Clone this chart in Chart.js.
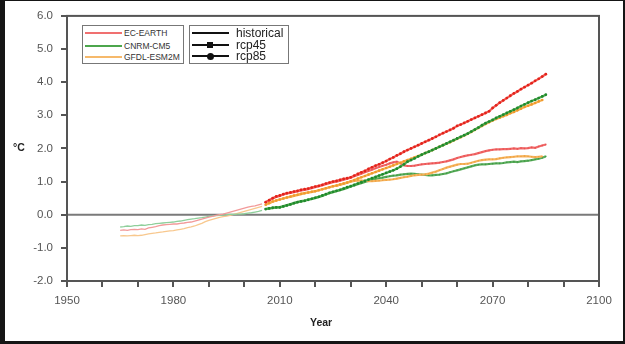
<!DOCTYPE html>
<html>
<head>
  <title>Temperature projections</title>
  <script src="https://cdn.jsdelivr.net/npm/chart.js"></script>
  <style>
    body { margin: 0; background: #151515; font-family: "Liberation Sans", Arial, sans-serif; }
    #panel { position: absolute; left: 5px; top: 1px; width: 618px; height: 340px; background: #fff; }
    #panel canvas { position: absolute; left: 0; top: 0; }
    .lab { position: absolute; font-weight: bold; font-size: 10.5px; color: #222; }
    .box { position: absolute; border: 1.5px solid #777; background: #fff; }
    .row { position: absolute; left: 2px; height: 12px; }
    .ln { position: absolute; left: 0; width: 37px; top: 5px; height: 2px; }
    .txt { position: absolute; top: 0; line-height: 12px; white-space: nowrap; }
    .mk { position: absolute; background: #111; }
  </style>
</head>
<body>
  <div id="panel">
    <canvas id="chart" width="618" height="340"></canvas>
    <div class="lab" style="left:8px; top:140px;">°C</div>
    <div class="lab" style="left:305px; top:315px;">Year</div>
    <div class="box" style="left:77px; top:24px; width:100px; height:37px;">
      <div class="row" style="top:1px;"><div class="ln" style="background:#f07070"></div><div class="txt" style="left:39px; font-size:8.5px; color:#333;">EC-EARTH</div></div>
      <div class="row" style="top:14px;"><div class="ln" style="background:#4ca64c"></div><div class="txt" style="left:39px; font-size:8.5px; color:#333;">CNRM-CM5</div></div>
      <div class="row" style="top:25px;"><div class="ln" style="background:#f6b96b"></div><div class="txt" style="left:39px; font-size:8.5px; color:#333;">GFDL-ESM2M</div></div>
    </div>
    <div class="box" style="left:184px; top:24px; width:98px; height:37px;">
      <div class="row" style="top:1px;"><div class="ln" style="background:#111"></div><div class="txt" style="left:44px; font-size:12px; color:#222;">historical</div></div>
      <div class="row" style="top:13px;"><div class="ln" style="background:#111"></div><div class="mk" style="left:15px; top:3px; width:6px; height:6px;"></div><div class="txt" style="left:44px; font-size:12px; color:#222;">rcp45</div></div>
      <div class="row" style="top:24px;"><div class="ln" style="background:#111"></div><div class="mk" style="left:15px; top:3px; width:7px; height:7px; border-radius:50%;"></div><div class="txt" style="left:44px; font-size:12px; color:#222;">rcp85</div></div>
    </div>
  </div>
  <script>
    const histYears = [1965, 1966, 1967, 1968, 1969, 1970, 1971, 1972, 1973, 1974,
      1975, 1976, 1977, 1978, 1979, 1980, 1981, 1982, 1983, 1984,
      1985, 1986, 1987, 1988, 1989, 1990, 1991, 1992, 1993, 1994,
      1995, 1996, 1997, 1998, 1999, 2000, 2001, 2002, 2003, 2004, 2005];

    const rcpYears = [2006, 2007, 2008, 2009, 2010, 2011, 2012, 2013, 2014, 2015,
      2016, 2017, 2018, 2019, 2020, 2021, 2022, 2023, 2024, 2025,
      2026, 2027, 2028, 2029, 2030, 2031, 2032, 2033, 2034, 2035,
      2036, 2037, 2038, 2039, 2040, 2041, 2042, 2043, 2044, 2045,
      2046, 2047, 2048, 2049, 2050, 2051, 2052, 2053, 2054, 2055,
      2056, 2057, 2058, 2059, 2060, 2061, 2062, 2063, 2064, 2065,
      2066, 2067, 2068, 2069, 2070, 2071, 2072, 2073, 2074, 2075,
      2076, 2077, 2078, 2079, 2080, 2081, 2082, 2083, 2084, 2085];

    // historical runs
    const ecHist = [-0.47, -0.46, -0.47, -0.45, -0.44, -0.45, -0.43, -0.44, -0.40, -0.38,
      -0.36, -0.33, -0.31, -0.30, -0.29, -0.28, -0.28, -0.26, -0.25, -0.23,
      -0.22, -0.19, -0.16, -0.13, -0.10, -0.07, -0.05, -0.02, 0.00, 0.02,
      0.05, 0.08, 0.11, 0.14, 0.17, 0.20, 0.23, 0.25, 0.27, 0.30, 0.33];
    const cnrmHist = [-0.37, -0.36, -0.34, -0.35, -0.33, -0.33, -0.31, -0.32, -0.30, -0.29,
      -0.27, -0.26, -0.25, -0.24, -0.23, -0.22, -0.20, -0.19, -0.17, -0.15,
      -0.13, -0.12, -0.10, -0.09, -0.07, -0.05, -0.04, -0.03, -0.02, -0.01,
      0.00, 0.01, 0.01, 0.02, 0.02, 0.03, 0.05, 0.06, 0.08, 0.10, 0.13];
    const gfdlHist = [-0.64, -0.63, -0.64, -0.63, -0.62, -0.63, -0.62, -0.60, -0.58, -0.56,
      -0.55, -0.53, -0.52, -0.50, -0.49, -0.48, -0.46, -0.44, -0.42, -0.39,
      -0.37, -0.34, -0.30, -0.26, -0.21, -0.17, -0.14, -0.11, -0.08, -0.06,
      -0.04, -0.02, 0.01, 0.04, 0.07, 0.10, 0.13, 0.16, 0.19, 0.22, 0.25];

    // rcp85
    const ec85 = [0.38, 0.44, 0.50, 0.55, 0.58, 0.62, 0.65, 0.67, 0.70, 0.72,
      0.75, 0.77, 0.79, 0.82, 0.85, 0.87, 0.90, 0.94, 0.97, 1.00,
      1.02, 1.05, 1.08, 1.10, 1.13, 1.18, 1.23, 1.28, 1.32, 1.38,
      1.43, 1.48, 1.52, 1.57, 1.62, 1.68, 1.73, 1.79, 1.84, 1.90,
      1.95, 2.00, 2.05, 2.10, 2.15, 2.20, 2.25, 2.30, 2.35, 2.41,
      2.46, 2.51, 2.56, 2.61, 2.68, 2.72, 2.77, 2.82, 2.87, 2.92,
      2.97, 3.02, 3.07, 3.12, 3.22, 3.30, 3.38, 3.45, 3.52, 3.59,
      3.66, 3.72, 3.79, 3.85, 3.91, 3.97, 4.04, 4.10, 4.17, 4.24];
    const cnrm85 = [0.17, 0.19, 0.21, 0.22, 0.22, 0.25, 0.28, 0.31, 0.35, 0.38,
      0.40, 0.42, 0.45, 0.48, 0.51, 0.54, 0.58, 0.62, 0.66, 0.69,
      0.72, 0.75, 0.79, 0.83, 0.86, 0.90, 0.94, 0.98, 1.02, 1.06,
      1.10, 1.14, 1.18, 1.22, 1.26, 1.30, 1.34, 1.39, 1.45, 1.52,
      1.60, 1.65, 1.70, 1.76, 1.81, 1.86, 1.90, 1.95, 2.00, 2.05,
      2.10, 2.15, 2.20, 2.25, 2.30, 2.35, 2.40, 2.45, 2.51, 2.57,
      2.63, 2.70, 2.76, 2.81, 2.86, 2.92, 2.97, 3.02, 3.07, 3.12,
      3.17, 3.22, 3.28, 3.33, 3.38, 3.43, 3.47, 3.52, 3.57, 3.62];
    const gfdl85 = [0.30, 0.35, 0.40, 0.43, 0.46, 0.49, 0.52, 0.55, 0.58, 0.60,
      0.63, 0.65, 0.67, 0.69, 0.71, 0.74, 0.77, 0.80, 0.83, 0.86,
      0.88, 0.91, 0.94, 0.97, 1.01, 1.05, 1.09, 1.13, 1.17, 1.21,
      1.25, 1.29, 1.33, 1.37, 1.41, 1.45, 1.49, 1.53, 1.57, 1.61,
      1.65, 1.69, 1.73, 1.77, 1.81, 1.86, 1.90, 1.95, 2.00, 2.05,
      2.10, 2.14, 2.19, 2.24, 2.29, 2.34, 2.39, 2.44, 2.50, 2.56,
      2.62, 2.68, 2.74, 2.79, 2.84, 2.89, 2.93, 2.97, 3.01, 3.06,
      3.10, 3.15, 3.20, 3.25, 3.29, 3.33, 3.37, 3.42, 3.46, null];

    // rcp45
    const ec45 = [0.38, 0.43, 0.49, 0.54, 0.57, 0.61, 0.64, 0.66, 0.68, 0.70,
      0.73, 0.75, 0.77, 0.80, 0.83, 0.86, 0.89, 0.92, 0.95, 0.98,
      1.00, 1.03, 1.06, 1.09, 1.12, 1.16, 1.20, 1.24, 1.28, 1.32,
      1.36, 1.40, 1.44, 1.48, 1.51, 1.55, 1.58, 1.60, 1.55, 1.49,
      1.47, 1.47, 1.48, 1.50, 1.52, 1.53, 1.54, 1.55, 1.56, 1.57,
      1.59, 1.61, 1.64, 1.67, 1.71, 1.74, 1.77, 1.79, 1.81, 1.83,
      1.86, 1.89, 1.92, 1.94, 1.96, 1.97, 1.97, 1.98, 1.98, 1.99,
      2.00, 1.99, 2.01, 2.00, 2.01, 2.03, 2.02, 2.06, 2.09, 2.12];
    const cnrm45 = [0.17, 0.19, 0.20, 0.22, 0.23, 0.26, 0.29, 0.32, 0.35, 0.38,
      0.41, 0.43, 0.46, 0.48, 0.51, 0.54, 0.57, 0.61, 0.65, 0.68,
      0.71, 0.74, 0.77, 0.81, 0.85, 0.88, 0.92, 0.95, 0.99, 1.02,
      1.05, 1.08, 1.10, 1.12, 1.14, 1.16, 1.18, 1.19, 1.21, 1.22,
      1.23, 1.24, 1.23, 1.22, 1.21, 1.20, 1.19, 1.19, 1.20, 1.21,
      1.23, 1.25, 1.28, 1.31, 1.34, 1.37, 1.40, 1.43, 1.46, 1.49,
      1.51, 1.52, 1.52, 1.53, 1.54, 1.55, 1.55, 1.56, 1.58, 1.59,
      1.60, 1.59, 1.61, 1.62, 1.63, 1.65, 1.67, 1.69, 1.72, 1.76];
    const gfdl45 = [0.30, 0.35, 0.39, 0.43, 0.46, 0.49, 0.52, 0.54, 0.57, 0.60,
      0.62, 0.65, 0.67, 0.69, 0.71, 0.74, 0.77, 0.80, 0.83, 0.86,
      0.88, 0.91, 0.94, 0.97, 1.00, 1.02, 1.03, 1.03, 1.02, 1.01,
      1.01, 1.02, 1.03, 1.04, 1.05, 1.06, 1.07, 1.09, 1.11, 1.13,
      1.15, 1.17, 1.19, 1.20, 1.21, 1.22, 1.24, 1.27, 1.30, 1.34,
      1.38, 1.42, 1.45, 1.48, 1.51, 1.53, 1.53, 1.54, 1.57, 1.60,
      1.63, 1.65, 1.66, 1.67, 1.67, 1.68, 1.70, 1.72, 1.73, 1.74,
      1.75, 1.76, 1.76, 1.77, 1.76, 1.75, 1.74, 1.75, 1.76, null];

    const xTickLabels = [1950, 1980, 2010, 2040, 2070, 2100];

    function pts(years, vals) {
      return years.map((yr, i) => ({ x: yr, y: vals[i] }));
    }

    function hist(label, vals, color) {
      return {
        label: label, data: pts(histYears, vals), borderColor: color,
        borderWidth: 1.3, pointRadius: 0, order: 10
      };
    }

    function rcp(label, vals, line, dot, style, r, order) {
      return {
        label: label, data: pts(rcpYears, vals), borderColor: line, borderWidth: 2.2,
        pointStyle: style, pointRadius: r, pointBorderWidth: 0,
        pointBackgroundColor: dot, order: order
      };
    }

    // plot frame and zero line
    const framePlugin = {
      id: 'frame',
      beforeDatasetsDraw(chart) {
        const { ctx, chartArea: a, scales } = chart;
        const y0 = scales.y.getPixelForValue(0);
        ctx.save();
        ctx.strokeStyle = '#7a7a7a';
        ctx.lineWidth = 2;
        ctx.beginPath();
        ctx.moveTo(a.left, y0);
        ctx.lineTo(a.right, y0);
        ctx.stroke();
        ctx.restore();
      },
      afterDraw(chart) {
        const { ctx, chartArea: a } = chart;
        ctx.save();
        ctx.strokeStyle = '#555';
        ctx.lineWidth = 2;
        ctx.strokeRect(a.left, a.top, a.right - a.left, a.bottom - a.top);
        ctx.restore();
      }
    };

    new Chart(document.getElementById('chart'), {
      type: 'line',
      data: {
        datasets: [
          hist('EC-EARTH historical', ecHist, '#f29a9a'),
          hist('CNRM-CM5 historical', cnrmHist, '#8fcf9b'),
          hist('GFDL-ESM2M historical', gfdlHist, '#f8c88e'),
          rcp('CNRM-CM5 rcp45', cnrm45, '#5cad5c', '#3d9a45', 'rect', 1, 6),
          rcp('GFDL-ESM2M rcp45', gfdl45, '#f5b45e', '#f0a040', 'rect', 1, 5),
          rcp('EC-EARTH rcp45', ec45, '#f06a6a', '#ea5050', 'rect', 1, 4),
          rcp('GFDL-ESM2M rcp85', gfdl85, '#f6b054', '#f09a2c', 'circle', 1.3, 3),
          rcp('CNRM-CM5 rcp85', cnrm85, '#52aa52', '#1f8a2c', 'circle', 1.4, 2),
          rcp('EC-EARTH rcp85', ec85, '#f26058', '#e3231c', 'circle', 1.4, 1)
        ]
      },
      options: {
        responsive: false,
        animation: false,
        layout: { padding: { left: 12, right: 24, top: 12, bottom: 20 } },
        plugins: { legend: { display: false }, tooltip: { enabled: false } },
        scales: {
          x: {
            type: 'linear', min: 1950, max: 2100,
            afterFit: s => { s.height = 40; },
            border: { display: false },
            grid: { drawOnChartArea: false, tickLength: 6, color: '#555', lineWidth: 2 },
            ticks: {
              stepSize: 10, padding: 7, color: '#555', maxRotation: 0, autoSkip: false,
              font: { family: 'Liberation Sans', size: 11.5 },
              callback: v => xTickLabels.includes(v) ? String(v) : ''
            }
          },
          y: {
            min: -2, max: 6,
            afterFit: s => { s.width = 50; },
            border: { display: false },
            grid: { drawOnChartArea: false, tickLength: 6, color: '#555', lineWidth: 2 },
            ticks: {
              stepSize: 1, padding: 8, color: '#555',
              font: { family: 'Liberation Sans', size: 11.5 },
              callback: v => v.toFixed(1)
            }
          }
        }
      },
      plugins: [framePlugin]
    });
  </script>
</body>
</html>
